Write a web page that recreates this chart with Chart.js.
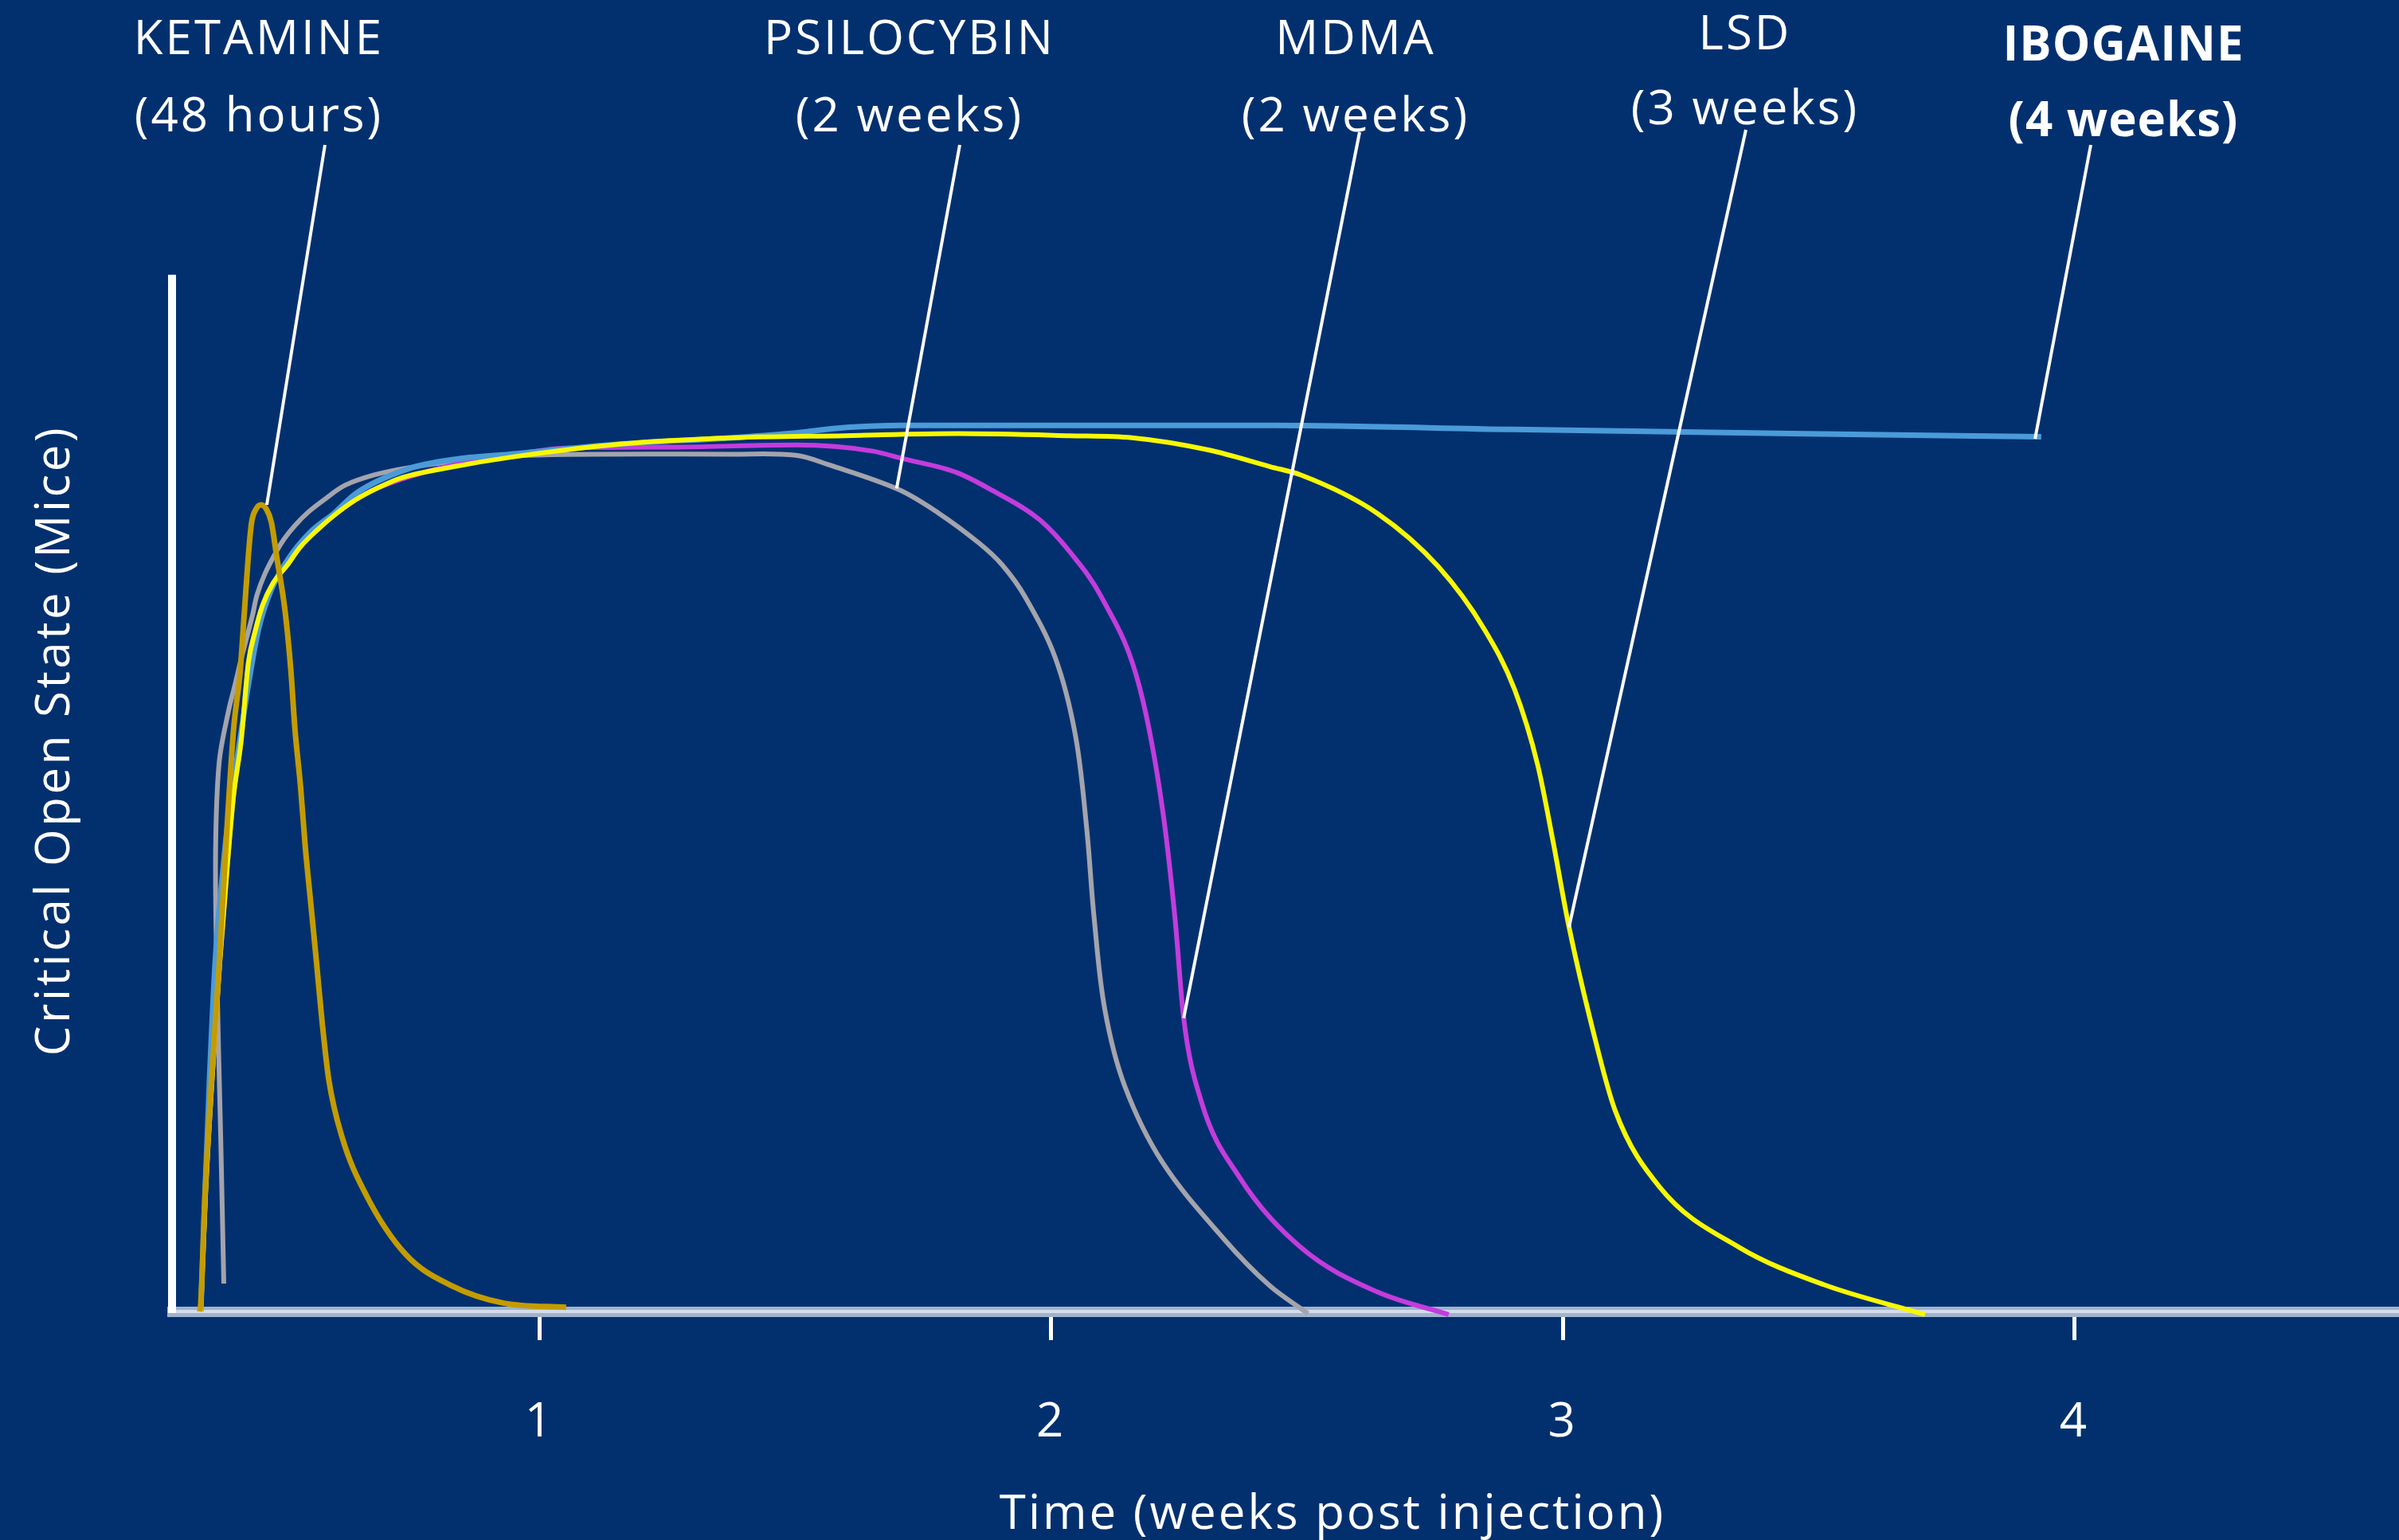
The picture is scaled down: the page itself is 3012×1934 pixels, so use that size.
<!DOCTYPE html>
<html>
<head>
<meta charset="utf-8">
<title>Critical Open State</title>
<script src="https://cdn.jsdelivr.net/npm/chart.js@4.4.1/dist/chart.umd.min.js"></script>
<style>
  html, body { margin: 0; padding: 0; background: #02306f; overflow: hidden; }
  canvas { display: block; }
</style>
</head>
<body>
<canvas id="openState" width="3130" height="1934"></canvas>
<script>
// --------------------------------------------------------------
// DATA: weeks post injection vs open state (0-100)
// --------------------------------------------------------------
const weekTicks = [1, 2, 3, 4];

const ketamineWeeks = [0.336, 0.338, 0.346, 0.359, 0.374, 0.387, 0.402, 0.415, 0.423, 0.431, 0.437, 0.446, 0.456, 0.466, 0.476, 0.486, 0.503, 0.514, 0.522, 0.533, 0.542, 0.553, 0.564, 0.575, 0.588, 0.614, 0.662, 0.739, 0.828, 0.931, 1.052];
const ketamineLevel = [0, 0.8, 11.0, 22.4, 33.7, 45.0, 56.3, 62.0, 67.6, 73.2, 76.3, 77.7, 78.1, 77.7, 76.4, 73.2, 67.7, 62.1, 56.4, 50.8, 45.1, 39.5, 33.9, 28.1, 22.5, 16.9, 11.2, 5.5, 2.5, 0.8, 0.4];

const psilocybinWeeks = [0.383, 0.377, 0.369, 0.367, 0.374, 0.392, 0.405, 0.417, 0.428, 0.439, 0.448, 0.464, 0.486, 0.501, 0.522, 0.548, 0.579, 0.620, 0.677, 0.744, 0.833, 0.974, 1.379, 1.501, 1.564, 1.701, 1.780, 1.859, 1.904, 1.949, 2.008, 2.047, 2.069, 2.084, 2.105, 2.144, 2.218, 2.338, 2.427, 2.502];
const psilocybinLevel = [2.7, 16.7, 33.7, 45.0, 53.2, 58.1, 60.7, 63.2, 65.3, 67.4, 69.4, 71.5, 73.6, 74.8, 76.1, 77.4, 78.6, 80.0, 81.0, 81.7, 82.3, 82.9, 83.0, 82.9, 82.0, 79.6, 77.3, 74.4, 72.3, 69.2, 63.3, 55.9, 47.0, 38.1, 29.2, 21.8, 14.4, 7.0, 2.5, -0.2];

const mdmaWeeks = [0.338, 0.347, 0.360, 0.375, 0.389, 0.402, 0.417, 0.431, 0.444, 0.459, 0.479, 0.506, 0.532, 0.564, 0.599, 0.641, 0.682, 0.833, 0.942, 1.051, 1.269, 1.502, 1.652, 1.708, 1.817, 1.885, 1.979, 2.039, 2.098, 2.173, 2.218, 2.242, 2.259, 2.293, 2.368, 2.488, 2.637, 2.777];
const mdmaLevel = [0, 11.0, 22.4, 33.7, 42.6, 49.9, 55.3, 62.8, 65.8, 68.4, 70.5, 72.2, 74.0, 75.6, 77.1, 78.6, 79.7, 82.0, 82.9, 83.6, 83.7, 83.9, 83.3, 82.6, 81.2, 79.5, 76.6, 73.4, 69.2, 60.4, 48.5, 38.1, 28.4, 20.4, 13.0, 6.2, 1.9, -0.3];

const lsdWeeks = [0.338, 0.347, 0.360, 0.375, 0.389, 0.402, 0.417, 0.431, 0.444, 0.459, 0.479, 0.506, 0.532, 0.564, 0.599, 0.641, 0.682, 0.729, 0.833, 0.942, 1.161, 1.379, 1.597, 1.817, 2.035, 2.158, 2.309, 2.428, 2.488, 2.637, 2.757, 2.846, 2.906, 2.951, 2.981, 3.011, 3.056, 3.102, 3.190, 3.345, 3.510, 3.708];
const lsdLevel = [0, 11.0, 22.4, 33.7, 42.6, 49.9, 55.3, 62.8, 65.8, 68.4, 70.5, 72.2, 74.0, 75.6, 77.1, 78.6, 79.7, 80.7, 81.8, 82.7, 84.0, 84.6, 84.8, 85.0, 84.8, 84.6, 83.4, 81.8, 81.0, 77.3, 72.1, 66.1, 60.2, 52.9, 45.5, 37.5, 27.8, 19.5, 12.0, 6.2, 2.6, -0.3];

const ibogaineWeeks = [0.338, 0.346, 0.355, 0.366, 0.381, 0.397, 0.412, 0.431, 0.451, 0.475, 0.511, 0.553, 0.599, 0.641, 0.744, 0.833, 0.942, 1.161, 1.379, 1.487, 1.600, 1.708, 2.436, 2.903, 3.448, 3.935];
const ibogaineLevel = [0, 11.0, 22.4, 33.7, 42.6, 49.9, 54.5, 60.7, 66.1, 69.8, 73.0, 75.5, 77.3, 79.2, 81.6, 82.5, 83.0, 84.0, 84.6, 85.0, 85.6, 85.8, 85.8, 85.4, 85.0, 84.7];

// labels above the plot and the curve point each leader line touches
const drugNames = ['KETAMINE', 'PSILOCYBIN', 'MDMA', 'LSD', 'IBOGAINE'];
const drugWindows = ['(48 hours)', '(2 weeks)', '(2 weeks)', '(3 weeks)', '(4 weeks)'];
const calloutWeek = [0.467, 1.698, 2.259, 3.012, 3.923];
const calloutLevel = [78.1, 79.7, 28.4, 37.2, 84.5];

// --------------------------------------------------------------
// LAYOUT / STYLE
// --------------------------------------------------------------
const FONT = '"Open Sans", "DejaVu Sans", sans-serif';
const X_MIN = 0.2818;   // y axis sits a little after week 0
const X_MAX = 4.818;    // canvas runs a bit past the window on the right

// text position of each label (px), and where its leader line starts
const labelLayout = [
    { x: 325,  y1: 68, y2: 165, lx: 408,  ly: 182, bold: false },
    { x: 1142, y1: 68, y2: 165, lx: 1205, ly: 182, bold: false },
    { x: 1702, y1: 68, y2: 165, lx: 1707, ly: 166, bold: false },
    { x: 2191, y1: 62, y2: 156, lx: 2192, ly: 163, bold: false },
    { x: 2666, y1: 76, y2: 171, lx: 2625, ly: 182, bold: true }
];

function toPoints(xs, ys) {
    return xs.map((x, i) => ({ x: x, y: ys[i] }));
}

function serie(label, xs, ys, color, width, monotone) {
    return {
        label: label,
        data: toPoints(xs, ys),
        borderColor: color,
        borderWidth: width,
        pointRadius: 0,
        fill: false,
        tension: 0.35,
        cubicInterpolationMode: monotone ? 'monotone' : 'default',
        clip: false
    };
}

// the original uses a narrow font: open the letters up a little
const spacingPlugin = {
    id: 'spacing',
    beforeUpdate(chart) { chart.ctx.letterSpacing = '3px'; },
    beforeDraw(chart) { chart.ctx.letterSpacing = '3px'; }
};

// drug names, leader lines and the y title
const calloutPlugin = {
    id: 'callouts',
    afterDatasetsDraw(chart) {
        const ctx = chart.ctx;
        const xs = chart.scales.x, ys = chart.scales.y;
        ctx.save();
        ctx.fillStyle = '#ffffff';
        ctx.strokeStyle = '#ffffff';
        ctx.textAlign = 'center';
        ctx.textBaseline = 'alphabetic';
        drugNames.forEach((nome, i) => {
            const l = labelLayout[i];
            ctx.letterSpacing = l.bold ? '1px' : '3px';
            ctx.font = (l.bold ? 'bold ' : '') + '60px ' + FONT;
            ctx.fillText(nome, l.x, l.y1);
            ctx.fillText(drugWindows[i], l.x, l.y2);
            ctx.lineWidth = 4;
            ctx.beginPath();
            ctx.moveTo(l.lx, l.ly);
            ctx.lineTo(xs.getPixelForValue(calloutWeek[i]), ys.getPixelForValue(calloutLevel[i]));
            ctx.stroke();
        });
        // y axis title
        ctx.letterSpacing = '3.5px';
        ctx.translate(87, 930);
        ctx.rotate(-Math.PI / 2);
        ctx.font = '60px ' + FONT;
        ctx.fillText('Critical Open State (Mice)', 0, 0);
        ctx.restore();
    }
};

const ctx = document.getElementById('openState').getContext('2d');
new Chart(ctx, {
    type: 'line',
    data: {
        datasets: [
            serie('Ketamine', ketamineWeeks, ketamineLevel, '#c49c00', 7, true),
            serie('LSD', lsdWeeks, lsdLevel, '#f8f800', 6, true),
            serie('Ibogaine', ibogaineWeeks, ibogaineLevel, '#4a9bd8', 7, true),
            serie('MDMA', mdmaWeeks, mdmaLevel, '#c43cdc', 6, true),
            serie('Psilocybin', psilocybinWeeks, psilocybinLevel, '#a4a4ac', 6, false)
        ]
    },
    options: {
        responsive: false,
        animation: false,
        devicePixelRatio: 1,
        layout: { autoPadding: false, padding: { left: 216, top: 350, right: 0, bottom: 0 } },
        plugins: { legend: { display: false }, tooltip: { enabled: false } },
        scales: {
            x: {
                type: 'linear',
                min: X_MIN,
                max: X_MAX,
                afterBuildTicks: s => { s.ticks = weekTicks.map(v => ({ value: v })); },
                grid: { display: true, drawOnChartArea: false, drawTicks: true, tickLength: 36, tickWidth: 5, tickColor: '#ffffff' },
                border: { display: true, color: 'rgba(200,212,230,0.8)', width: 13 },
                ticks: { color: '#ffffff', font: { family: FONT, size: 60 }, padding: 68, maxRotation: 0, autoSkip: false },
                // negative title padding: chart.js counts tick padding twice in the axis height
                title: { display: true, text: 'Time (weeks post injection)', color: '#ffffff', font: { family: FONT, size: 60 }, padding: { top: -24, bottom: -5 } }
            },
            y: {
                min: 0,
                max: 100,
                afterBuildTicks: s => { s.ticks = [{ value: 0 }]; },
                ticks: { display: false },
                grid: {
                    display: true,
                    drawOnChartArea: true,
                    drawTicks: false,
                    color: c => (c.tick && c.tick.value === 0 ? '#ffffff' : 'rgba(0,0,0,0)'),
                    lineWidth: 4
                },
                border: { display: true, color: '#ffffff', width: 10 }
            }
        }
    },
    plugins: [spacingPlugin, calloutPlugin]
});
</script>
</body>
</html>
